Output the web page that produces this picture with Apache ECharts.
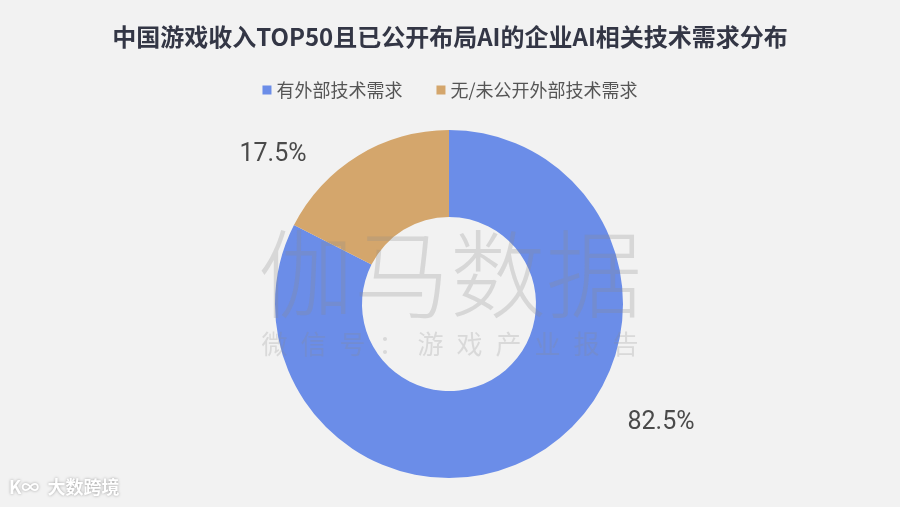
<!DOCTYPE html>
<html><head><meta charset="utf-8">
<script src="https://cdn.jsdelivr.net/npm/echarts@6/dist/echarts.min.js"></script>
<style>html,body{margin:0;padding:0;background:#f2f2f2}#c{width:900px;height:507px}</style>
</head><body><div id="c"></div>
<script>
const categories = ['有外部技术需求', '无/未公开外部技术需求'];
const shares = [82.5, 17.5];
const colors = ['#6b8de8', '#d4a66c'];
const labelSpots = [[661, 423], [273, 155]];

const chart = echarts.init(document.getElementById('c'));
chart.setOption({
  backgroundColor: '#f2f2f2',
  title: {
    text: '中国游戏收入TOP50且已公开布局AI的企业AI相关技术需求分布',
    left: 'center', top: 20,
    textStyle: { fontSize: 24, fontWeight: 'bold', color: '#333645', fontFamily: 'Noto Sans CJK SC' }
  },
  legend: {
    top: 76, left: 'center', icon: 'rect', itemWidth: 9, itemHeight: 9, itemGap: 34,
    textStyle: { fontSize: 18, color: '#555', fontFamily: 'Noto Sans CJK SC' },
    data: categories
  },
  graphic: [
    { type: 'text', left: 'center', top: 226, z: 100, silent: true,
      style: { text: '伽马数据', fontSize: 96, fill: 'rgba(140,140,140,0.26)', fontFamily: 'Noto Sans CJK SC', fontWeight: 300 } },
    { type: 'text', left: 'center', top: 331, z: 100, silent: true,
      style: { text: '微\u2002信\u2002号\u2002：\u2002游\u2002戏\u2002产\u2002业\u2002报\u2002告', fontSize: 26, fill: 'rgba(140,140,140,0.24)', fontFamily: 'Noto Sans CJK SC' } },
    { type: 'text', left: 9, top: 478, z: 100, silent: true,
      style: { text: 'K∞  大数跨境', fontSize: 18, fill: '#ffffff', fontWeight: 'bold', fontFamily: 'Noto Sans CJK SC',
        textShadowColor: 'rgba(0,0,0,0.35)', textShadowBlur: 3 } }
  ],
  series: [{
    type: 'pie',
    center: [449, 304],
    radius: [87, 174],
    startAngle: 90,
    clockwise: true,
    silent: true,
    data: categories.map((n, i) => ({ name: n, value: shares[i], itemStyle: { color: colors[i] } })),
    label: {
      show: true, position: 'outside',
      formatter: p => p.value.toFixed(1) + '%',
      fontSize: 25, color: '#4a4a4a', fontFamily: 'Roboto'
    },
    labelLine: { show: false },
    labelLayout: p => ({
      x: labelSpots[p.dataIndex][0], y: labelSpots[p.dataIndex][1],
      align: 'center', verticalAlign: 'middle'
    })
  }]
});
</script></body></html>
